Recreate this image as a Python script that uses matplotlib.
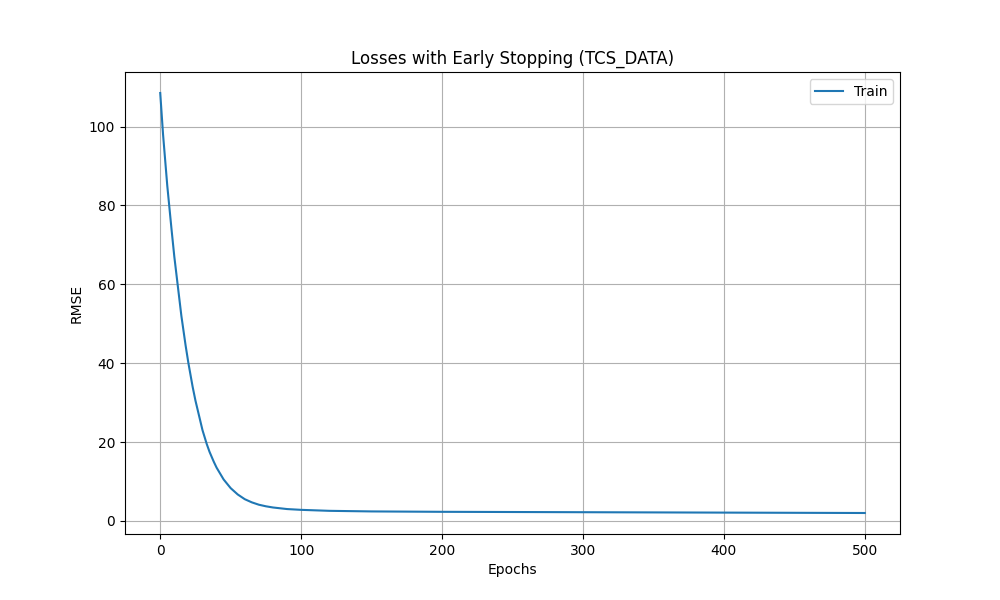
import matplotlib
matplotlib.use("Agg")
import matplotlib.pyplot as plt

epochs = [0, 2, 5, 8, 10, 12, 15, 18, 20, 23, 25, 28, 30, 33, 35, 38, 40, 45, 50, 55, 60, 65, 70, 75, 80, 90, 100, 120, 150, 200, 250, 300, 350, 400, 450, 500]
train_rmse = [108.5, 98.0, 85.0, 74.0, 67.0, 61.0, 52.0, 44.5, 40.0, 34.0, 30.5, 26.0, 23.0, 19.5, 17.5, 15.0, 13.5, 10.5, 8.3, 6.7, 5.5, 4.7, 4.1, 3.7, 3.4, 3.0, 2.8, 2.55, 2.4, 2.3, 2.25, 2.2, 2.15, 2.1, 2.05, 2.0]

fig, ax = plt.subplots(figsize=(10, 6), dpi=100)
ax.plot(epochs, train_rmse, label="Train")
ax.set_title("Losses with Early Stopping (TCS_DATA)")
ax.set_xlabel("Epochs")
ax.set_ylabel("RMSE")
ax.grid(True)
ax.legend(loc="upper right")
fig.savefig("out.png")
